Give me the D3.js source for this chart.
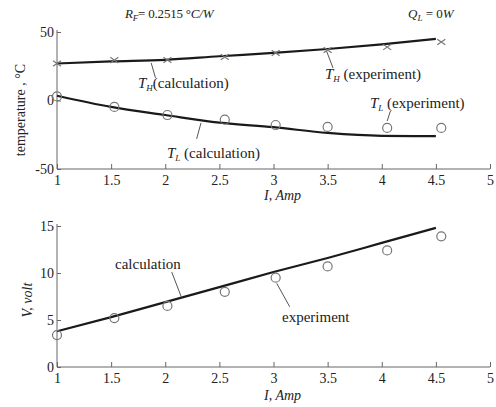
<!DOCTYPE html>
<html>
<head>
<meta charset="utf-8">
<script src="https://d3js.org/d3.v7.min.js"></script>
<style>
  body { margin: 0; background: #fff; }
  svg { display: block; font-family: "Liberation Serif", "DejaVu Serif", serif; }
  .axis line { stroke: #666; stroke-width: 1; }
  .axis text { font-size: 14px; fill: #222; font-family: "Liberation Serif", serif; }
  .frame { stroke: #666; stroke-width: 1; }
  .calc { fill: none; stroke: #1a1a1a; stroke-width: 2.2; }
  .mark { fill: none; stroke: #777; stroke-width: 1.2; }
  .lbl { font-size: 15px; fill: #222; }
  .lead { stroke: #555; stroke-width: 1; fill: none; }
</style>
</head>
<body>
<script>
// current (A) where the measurements were taken
var currentExp = [1, 1.53, 2.02, 2.55, 3.02, 3.5, 4.05, 4.55];
var currentCalc = [1, 1.5, 2, 2.5, 3, 3.5, 4, 4.5];

// temperatures, deg C
var thCalc = [27, 28.5, 29.7, 32.3, 34.7, 37.6, 41, 45];
var thExp = [27, 29.5, 29.6, 31.8, 34.7, 36.9, 39, 42.7];
var tlCalc = [3.5, -4.7, -10.6, -16.2, -19.5, -23.7, -25.8, -26];
var tlExp = [3, -4.7, -10.6, -14, -17.9, -19.3, -20, -20];

// voltage, V
var vCalc = [3.8, 5.3, 6.9, 8.5, 10.1, 11.6, 13.2, 14.8];
var vExp = [3.4, 5.2, 6.5, 8.0, 9.5, 10.7, 12.4, 13.9];

var xTicks = [1, 1.5, 2, 2.5, 3, 3.5, 4, 4.5, 5];
var tTicks = [-50, 0, 50];
var vTicks = [0, 5, 10, 15];

var width = 496, height = 407;
var svg = d3.select("body").append("svg")
    .attr("width", width)
    .attr("height", height);

var x = d3.scaleLinear().domain([1, 5]).range([57, 490]);
var yT = d3.scaleLinear().domain([-50, 50]).range([169, 32]);
var yV = d3.scaleLinear().domain([0, 15]).range([367, 226]);

function drawAxes(y, ticks) {
    var gx = svg.append("g").attr("class", "axis")
        .attr("transform", "translate(0," + y.range()[0] + ")")
        .call(d3.axisBottom(x).tickValues(xTicks).tickSize(-5).tickPadding(6).tickFormat(String));
    var gy = svg.append("g").attr("class", "axis")
        .attr("transform", "translate(" + x.range()[0] + ",0)")
        .call(d3.axisLeft(y).tickValues(ticks).tickSize(-4).tickPadding(3).tickFormat(String));
    gx.select(".domain").remove();
    gy.select(".domain").remove();
    svg.append("line").attr("class", "frame")
        .attr("x1", x(1)).attr("x2", x(5)).attr("y1", y.range()[0]).attr("y2", y.range()[0]);
    svg.append("line").attr("class", "frame")
        .attr("x1", x(1)).attr("x2", x(1)).attr("y1", y.range()[0]).attr("y2", y.range()[1] - 2);
}

drawAxes(yT, tTicks);
drawAxes(yV, vTicks);

function calcLine(y, vals) {
    var line = d3.line().curve(d3.curveMonotoneX)
        .x(function (d, i) { return x(currentCalc[i]); })
        .y(function (d) { return y(d); });
    svg.append("path").attr("class", "calc").attr("d", line(vals));
}

function circles(y, vals) {
    svg.selectAll(null).data(vals).enter().append("circle")
        .attr("class", "mark")
        .attr("cx", function (d, i) { return x(currentExp[i]); })
        .attr("cy", function (d) { return y(d); })
        .attr("r", 4.5);
}

function crosses(y, vals) {
    var s = 4;
    svg.selectAll(null).data(vals).enter().append("path")
        .attr("class", "mark")
        .attr("d", function (d, i) {
            var cx = x(currentExp[i]), cy = y(d);
            return "M" + (cx - s) + "," + (cy - s * 0.7) + "L" + (cx + s) + "," + (cy + s * 0.7) +
                "M" + (cx - s) + "," + (cy + s * 0.7) + "L" + (cx + s) + "," + (cy - s * 0.7);
        });
}

calcLine(yT, thCalc);
calcLine(yT, tlCalc);
crosses(yT, thExp);
circles(yT, tlExp);

calcLine(yV, vCalc);
circles(yV, vExp);

// labels with subscripts
function subLabel(px, py, main, sub, rest, italicTail) {
    var t = svg.append("text").attr("class", "lbl").attr("x", px).attr("y", py);
    t.append("tspan").style("font-style", "italic").text(main);
    t.append("tspan").style("font-style", "italic").style("font-size", "9px").attr("dy", 3).text(sub);
    t.append("tspan").attr("dy", -3).text(rest);
    if (italicTail) t.append("tspan").style("font-style", "italic").text(italicTail);
    return t;
}

subLabel(125, 18, "R", "F", "= 0.2515 °", "C/W").style("font-size", "13px").style("letter-spacing", "-0.2px");
subLabel(408, 18, "Q", "L", " = 0", "W").style("font-size", "13px");
subLabel(138, 88, "T", "H", "(calculation)");
subLabel(167, 158, "T", "L", " (calculation)");
subLabel(325, 79, "T", "H", " (experiment)");
subLabel(370, 108, "T", "L", " (experiment)");

svg.append("text").attr("class", "lbl").attr("x", 115).attr("y", 269).text("calculation");
svg.append("text").attr("class", "lbl").attr("x", 282).attr("y", 322).text("experiment");

// leader lines (data coordinates)
var leaders = [
    [1.87, 27.4, 1.91, 16.5],
    [2.33, -16.4, 2.29, -28],
    [3.49, 36.1, 3.55, 23.7],
    [4.08, -7.7, 4.05, -15]
];
leaders.forEach(function (l) {
    svg.append("line").attr("class", "lead")
        .attr("x1", x(l[0])).attr("y1", yT(l[1])).attr("x2", x(l[2])).attr("y2", yT(l[3]));
});
var vLeaders = [
    [2.15, 7.4, 2.06, 10.1],
    [3.15, 6.4, 3.03, 8.9]
];
vLeaders.forEach(function (l) {
    svg.append("line").attr("class", "lead")
        .attr("x1", x(l[0])).attr("y1", yV(l[1])).attr("x2", x(l[2])).attr("y2", yV(l[3]));
});

// axis titles
function xTitle(py) {
    svg.append("text").attr("class", "lbl").attr("x", 264).attr("y", py)
        .style("font-style", "italic").style("font-size", "14px")
        .text("I, Amp");
}
xTitle(200);
xTitle(400);

svg.append("text").attr("class", "lbl")
    .attr("transform", "translate(25,110) rotate(-90)")
    .attr("text-anchor", "middle")
    .style("font-size", "14px")
    .text("temperature , °C");
svg.append("text").attr("class", "lbl")
    .attr("transform", "translate(32,300) rotate(-90)")
    .attr("text-anchor", "middle")
    .style("font-style", "italic")
    .style("font-size", "14px")
    .text("V, volt");
</script>
</body>
</html>
